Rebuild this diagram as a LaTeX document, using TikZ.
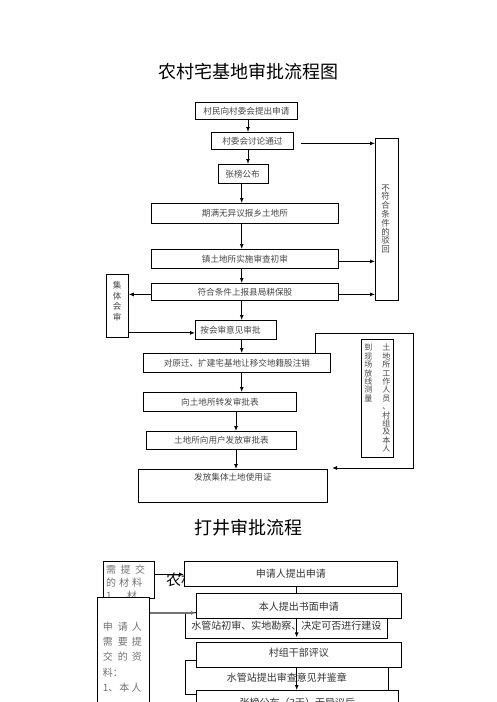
\documentclass[tikz,border=0pt]{standalone}
\usepackage{fontspec}
\setmainfont{Noto Sans CJK SC}
\usetikzlibrary{arrows.meta,calc}
\definecolor{txt}{rgb}{0.28,0.28,0.28}
\definecolor{ltxt}{rgb}{0.45,0.45,0.45}
\begin{document}
\begin{tikzpicture}[x=1pt,y=-1pt,
  box/.style={draw=black,line width=0.8pt,fill=white,inner sep=0pt,anchor=north west,text=txt,font=\fontsize{8.6}{10}\selectfont},
  bbox/.style={box,text=black!80,font=\fontsize{10}{12}\selectfont},
  arr/.style={-{Latex[length=5pt,width=4pt]},line width=0.9pt},
  ln/.style={line width=0.9pt},
  vtext/.style={align=center,inner sep=0pt,text=txt,font=\fontsize{8.5}{8.8}\selectfont},
  titlestyle/.style={font=\fontsize{18}{20}\selectfont,inner sep=0pt}]
\useasboundingbox[fill=white] (0,0) rectangle (496,702);

% ---------- first chart ----------
\node[titlestyle] (t1) at (248,72) {农村宅基地审批流程图};

\node[box,minimum width=102,minimum height=17] (b1) at (195,102) {村民向村委会提出申请};
\node[box,minimum width=82,minimum height=17] (b2) at (211,132) {村委会讨论通过};
\node[box,minimum height=19,text width=36,inner xsep=7,align=left] (b3) at (218,164) {张榜公布};
\node[box,minimum width=187,minimum height=20] (b4) at (151,203) {期满无异议报乡土地所};
\node[box,minimum width=187,minimum height=19] (b5) at (151,249) {镇土地所实施审查初审};
\node[box,minimum width=187,minimum height=17] (b6) at (151,283) {符合条件上报县局耕保股};
\node[box,minimum width=23,minimum height=162] (rej) at (375,138) {};
\node[vtext] (rejt) at (385.5,219) {不\\符\\合\\条\\件\\的\\驳\\回};
\node[box,minimum width=22.3,minimum height=63] (jiti) at (105.7,274) {};
\node[vtext,font=\fontsize{8.5}{10.5}\selectfont] (jitit) at (117,301) {集\\体\\会\\审};
\node[box,minimum height=19,text width=71,inner xsep=5,align=left] (b7) at (195,320) {按会审意见审批};
\node[box,minimum width=187,minimum height=19] (b8) at (143,353) {对原迁、扩建宅基地让移交地籍股注销};
\node[box,minimum width=153,minimum height=19] (b9) at (143,392) {向土地所转发审批表};
\node[box,minimum width=150,minimum height=18] (b10) at (146,431) {土地所向用户发放审批表};
\node[box,minimum width=189,minimum height=33,
  label={[anchor=north,inner sep=4.5pt,text=txt,font=\fontsize{8.6}{10}\selectfont]north:发放集体土地使用证}] (b11) at (138,469) {};

\node[box,minimum width=32.3,minimum height=117.7] (fld) at (360.7,339)
  {\parbox[t]{9pt}{\centering\fontsize{8}{8.4}\selectfont 到\\现\\场\\放\\线\\测\\量}\hspace{9pt}%
   \parbox[t]{9pt}{\centering\fontsize{8}{8.4}\selectfont 土\\地\\所\\工\\作\\人\\员\\、\\村\\组\\及\\本\\人}\hspace{5pt}};

% arrow columns
\coordinate (xa) at (248,0);
\coordinate (xb) at (241.7,0);
\coordinate (xc) at (236,0);
\draw[arr] (b1.south -| xa) -- (b2.north -| xa);
\draw[arr] (b2.south -| xa) -- (b3.north -| xa);
\draw[arr] (b3.south -| xb) -- (b4.north -| xb);
\draw[arr] (b4.south -| xb) -- (b5.north -| xb);
\draw[arr] (b5.south -| xb) -- (b6.north -| xb);
\draw[arr] (b6.south -| xb) -- (b7.north -| xb);
\draw[arr] (b7.south -| xb) -- (b8.north -| xb);
\draw[arr] (b8.south -| xb) -- (b9.north -| xb);
\draw[arr] (b9.south -| xc) -- (b10.north -| xc);
\draw[arr] (b10.south -| xc) -- (b11.north -| xc);

\draw[arr] ([shift={(7,2.5)}]b2.east) coordinate (h1) -- (h1 -| rej.west);
\draw[arr] ([shift={(0,2.5)}]b5.east) coordinate (h2) -- (h2 -| rej.west);
\draw[arr] ([shift={(0,2.5)}]b6.east) coordinate (h3) -- (h3 -| rej.west);
\draw[arr] ([shift={(0,2.5)}]b6.west) coordinate (h4) -- (h4 -| jiti.east);
\draw[arr] ([shift={(0,3)}]b7.west -| jiti.east) -- ([shift={(0,3)}]b7.west);

% loop from b8 to b11
\coordinate (lp1) at (315,333);
\coordinate (lp2) at (413,333);
\coordinate (lp3) at (413,468);
\coordinate (lpend) at (332,468);
\draw[arr] (b8.north -| lp1) -- (lp1) -- (lp2) -- (lp3) -- (lpend);

% ---------- second chart ----------
\node[titlestyle] (t2) at (248,528) {打井审批流程};

\node[anchor=west,inner sep=0pt,font=\fontsize{15}{15}\selectfont] (ghost) at (166,580) {农村宅基地审批流程图};

\node[box,minimum width=51.3,minimum height=37] (boxA) at (102.7,560.7) {};
\node[anchor=north west,inner sep=0pt,align=left,text=ltxt,font=\fontsize{10}{13}\selectfont] (ta) at (106,565)
  {需\hspace{4.5pt}提\hspace{4.5pt}交\\的\hspace{3pt}材\hspace{3pt}料\\1\hspace{4pt}、\hspace{1pt}材};

\node[bbox,minimum width=202,minimum height=26] (s3) at (185,612) {水管站初审、实地勘察、决定可否进行建设};
\node[bbox,minimum width=213,minimum height=25] (s1) at (184,561) {申请人提出申请};
\node[bbox,minimum width=205,minimum height=25] (s2) at (196,593.3) {本人提出书面申请};
\node[bbox,minimum width=203,minimum height=34] (s5) at (185,660) {水管站提出审查意见并鉴章};
\node[bbox,minimum width=205,minimum height=25,text depth=5pt] (s4) at (196,641.7) {村组干部评议};
\node[bbox,minimum width=202,minimum height=25] (s6) at (196,690) {张榜公布（3天）无异议后};

\node[box,minimum width=52.3,minimum height=125] (boxB) at (96.7,597.3) {};
\node[anchor=north west,inner sep=0pt,align=left,text=ltxt,font=\fontsize{10}{15.3}\selectfont] (tb) at (102.7,621.5)
  {申\hspace{5pt}请\hspace{4pt}人\\需\hspace{5pt}要\hspace{4pt}提\\交\hspace{5pt}的\hspace{4pt}资\\料：\\1、\hspace{1pt}本\hspace{2pt}人};

\coordinate (xv) at (296.7,0);
\draw[arr] ([shift={(0,-5.2)}]boxA.east) coordinate (q1) -- (q1 -| s1.west);
\coordinate (q2) at ([shift={(0,6.7)}]s2.west);
\draw[arr,draw=black!55,line width=1.2pt] (q2 -| boxB.east) -- (q2);
\draw[ln] (s1.south -| xv) -- (s2.north -| xv);
\draw[arr] (s2.south -| xv) -- ([shift={(0,-1.5)}]s3.south -| xv);
\draw[arr] (s4.south -| xv) -- (s6.north -| xv);
\end{tikzpicture}
\end{document}
